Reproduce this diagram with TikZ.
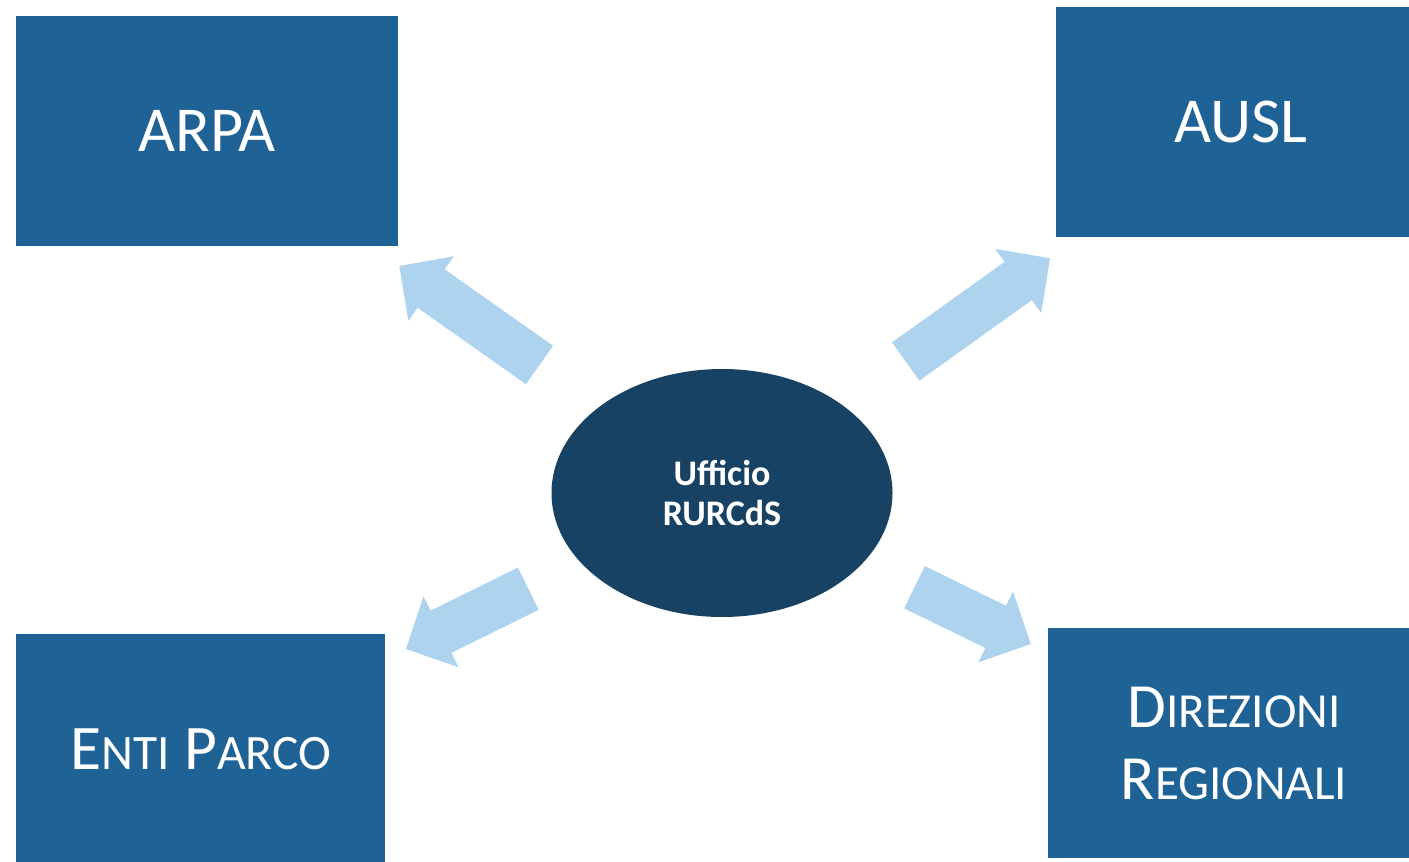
\documentclass[tikz,border=0pt]{standalone}
\usepackage{fontspec}
\setmainfont{Carlito}
\usetikzlibrary{calc,shapes.geometric}
\definecolor{boxblue}{HTML}{1F6396}
\definecolor{ellblue}{HTML}{174263}
\definecolor{arrblue}{HTML}{ADD3EF}
\newcommand\SCap[4]{{\fontsize{#1}{#1}\selectfont #3}{\fontsize{#2}{#2}\selectfont #4}}
\newcommand\blockarrow[3]{%
  \coordinate (#1h) at ($(#3)!39pt!(#2)$);
  \fill[arrowfill] ($(#2)!23.5pt!90:(#3)$) -- ($(#1h)!23.5pt!90:(#3)$)
    -- ($(#1h)!39.5pt!90:(#3)$) -- (#3) -- ($(#1h)!39.5pt!-90:(#3)$)
    -- ($(#1h)!23.5pt!-90:(#3)$) -- ($(#2)!23.5pt!-90:(#3)$) -- cycle;}
\tikzset{
  bluebox/.style={fill=boxblue, text=white, inner sep=0pt, align=center,
    font=\fontsize{64}{72}\selectfont},
  centre/.style={ellipse, fill=ellblue, text=white, inner sep=0pt,
    minimum width=341pt, minimum height=248pt, align=center,
    font=\bfseries\fontsize{36}{40}\selectfont},
  arrowfill/.style={fill=arrblue}
}
\begin{document}
\begin{tikzpicture}[x=1pt,y=-1pt]
\useasboundingbox (0,0) rectangle (1409,862);
\fill[white] (0,0) rectangle (1409,862);
\clip (0,0) rectangle (1409,862);
\node[bluebox, minimum width=382pt, minimum height=230pt] (arpa) at (207,131) {ARPA};
\node[bluebox, minimum width=370pt, minimum height=230pt] (ausl) at (1241,122) {AUSL};
\node[bluebox, minimum width=369pt, minimum height=230pt] (enti) at (200.5,749) {\SCap{63.5}{49.5}{E}{NTI} \SCap{63.5}{49.5}{P}{ARCO}};
\node[bluebox, minimum width=372pt, minimum height=230pt] (dir) at (1234,743)
  {\SCap{63}{49}{D}{IREZIONI}\\\SCap{63}{49}{R}{EGIONALI}};
\node[centre] (uff) at (722,493) {Ufficio\\RURCdS};
\coordinate (t1) at (539.5,365);  \coordinate (p1) at (399.3,266);
\coordinate (t2) at (905.7,361.5);\coordinate (p2) at (1050,258.3);
\coordinate (t3) at (528.3,588.7);\coordinate (p3) at (406,649);
\coordinate (t4) at (914.5,587.2);\coordinate (p4) at (1030.7,644);
\blockarrow{a1}{t1}{p1}
\blockarrow{a2}{t2}{p2}
\blockarrow{a3}{t3}{p3}
\blockarrow{a4}{t4}{p4}
\end{tikzpicture}
\end{document}
